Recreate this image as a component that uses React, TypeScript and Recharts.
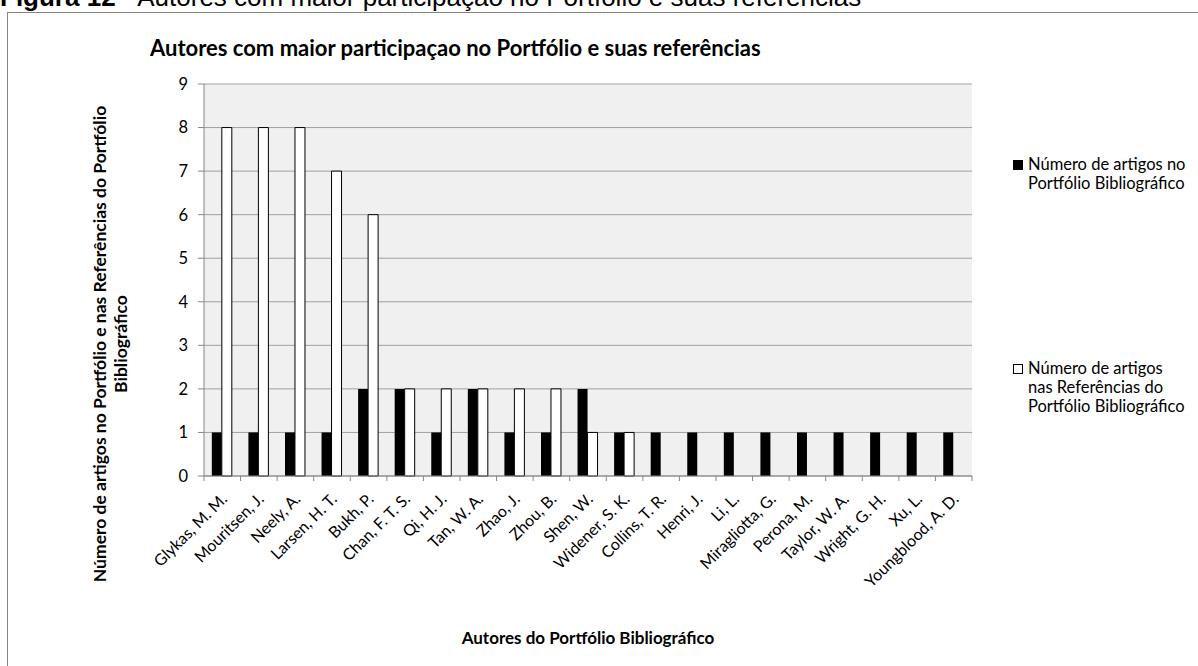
import { BarChart, Bar, XAxis, YAxis, CartesianGrid, Legend, Label } from "recharts";

const authors = [
  "Glykas, M. M.",
  "Mouritsen, J.",
  "Neely, A.",
  "Larsen, H. T.",
  "Bukh, P.",
  "Chan, F. T. S.",
  "Qi, H. J.",
  "Tan, W. A.",
  "Zhao, J.",
  "Zhou, B.",
  "Shen, W.",
  "Widener, S. K.",
  "Collins, T. R.",
  "Henri, J.",
  "Li, L.",
  "Miragliotta, G.",
  "Perona, M.",
  "Taylor, W. A.",
  "Wright, G. H.",
  "Xu, L.",
  "Youngblood, A. D.",
];

const noPortfolio = [1, 1, 1, 1, 2, 2, 1, 2, 1, 1, 2, 1, 1, 1, 1, 1, 1, 1, 1, 1, 1];
const nasReferencias = [8, 8, 8, 7, 6, 2, 2, 2, 2, 2, 1, 1, 0, 0, 0, 0, 0, 0, 0, 0, 0];

const yTicks = [0, 1, 2, 3, 4, 5, 6, 7, 8, 9];

const seriesNames = [
  "Número de artigos no Portfólio Bibliográfico",
  "Número de artigos nas Referências do Portfólio Bibliográfico",
];
const legendLines = [
  ["Número de artigos no", "Portfólio Bibliográfico"],
  ["Número de artigos", "nas Referências do", "Portfólio Bibliográfico"],
];

const chartTitle = "Autores com maior participaçao no Portfólio e suas referências";
const xTitle = "Autores do Portfólio Bibliográfico";
const yTitleLines = [
  "Número de artigos no Portfólio e nas Referências do Portfólio",
  "Bibliográfico",
];

const data = authors.map((name, i) => ({
  name,
  portfolio: noPortfolio[i],
  referencias: nasReferencias[i],
}));

const FONT = "Lato, 'Open Sans', sans-serif";
const AXIS = "#868686";
const PLOT_LEFT = 204;
const PLOT_RIGHT = 972;
const BAND = (PLOT_RIGHT - PLOT_LEFT) / authors.length;

// tick marks sit between categories, like the original spreadsheet chart
const XTick = (props: any) => {
  const { x, y, payload, index } = props;
  const half = BAND / 2;
  return (
    <g>
      <line x1={x - half} y1={y} x2={x - half} y2={y + 5} stroke={AXIS} />
      {index === authors.length - 1 && (
        <line x1={x + half} y1={y} x2={x + half} y2={y + 5} stroke={AXIS} />
      )}
      <text
        x={0}
        y={0}
        transform={`translate(${x + 6}, ${y + 24}) rotate(-45)`}
        textAnchor="end"
        fontFamily={FONT}
        fontSize={16}
        fill="#000"
      >
        {payload.value}
      </text>
    </g>
  );
};

const YTitle = () => (
  <text
    transform="translate(100, 344) rotate(-90)"
    textAnchor="middle"
    fontFamily={FONT}
    fontWeight="bold"
    fontSize={17.5}
    fill="#000"
  >
    <tspan x={0} dy={6}>{yTitleLines[0]}</tspan>
    <tspan x={0} dy={21}>{yTitleLines[1]}</tspan>
  </text>
);

const LegendBox = () => (
  <div style={{ position: "relative", width: 1198, height: 666, fontFamily: FONT, fontSize: 16.5, color: "#000" }}>
    {legendLines.map((lines, i) => (
      <div
        key={i}
        style={{ position: "absolute", left: 1013, top: i === 0 ? 155 : 359, whiteSpace: "nowrap", lineHeight: "19px" }}
      >
        <span
          style={{
            position: "absolute",
            left: 0,
            top: 5,
            width: 10,
            height: 10,
            boxSizing: "border-box",
            background: i === 0 ? "#000" : "#fff",
            border: "1px solid #000",
          }}
        />
        {lines.map((t, j) => (
          <div key={j} style={{ paddingLeft: 15 }}>
            {t}
          </div>
        ))}
      </div>
    ))}
  </div>
);

export default function App() {
  return (
    <div style={{ position: "fixed", left: 0, top: 0, width: 1198, height: 666, overflow: "hidden", background: "#fff" }}>
      <div
        style={{
          position: "absolute",
          left: 0,
          top: -18,
          fontFamily: "'Liberation Sans', Arial, sans-serif",
          fontSize: 26,
          whiteSpace: "nowrap",
          color: "#000",
        }}
      >
        <b>Figura 12</b> - Autores com maior participação no Portfólio e suas referências
      </div>
      <div
        style={{
          position: "absolute",
          left: 7,
          top: 12,
          width: 1300,
          height: 800,
          border: `1px solid ${AXIS}`,
        }}
      />
      <div
        style={{
          position: "absolute",
          left: 150,
          top: 34,
          fontFamily: FONT,
          fontWeight: "bold",
          fontSize: 22,
          whiteSpace: "nowrap",
          color: "#000",
        }}
      >
        {chartTitle}
      </div>
      <div style={{ position: "absolute", left: 0, top: 0 }}>
        <BarChart
          width={1198}
          height={666}
          data={data}
          margin={{ top: 84, right: 1198 - PLOT_RIGHT, bottom: 0, left: 0 }}
          barCategoryGap="21.4%"
          barGap={0}
        >
          <CartesianGrid vertical={false} stroke="#a0a0a0" fill="#f0f0f0" />
          <XAxis
            dataKey="name"
            height={190}
            interval={0}
            tickSize={0}
            tickMargin={0}
            axisLine={{ stroke: AXIS }}
            tickLine={false}
            tick={<XTick />}
          >
            <Label
              value={xTitle}
              position="insideBottom"
              offset={22}
              style={{ fontFamily: FONT, fontWeight: "bold", fontSize: 17, fill: "#000" }}
            />
          </XAxis>
          <YAxis
            width={PLOT_LEFT}
            domain={[0, 9]}
            ticks={yTicks}
            interval={0}
            axisLine={{ stroke: AXIS }}
            tickLine={{ stroke: AXIS }}
            tickSize={6}
            tickMargin={10}
            tick={{ fontFamily: FONT, fontSize: 16.5, fill: "#000" }}
            label={<YTitle />}
          />
          <Legend
            layout="vertical"
            align="center"
            verticalAlign="middle"
            content={<LegendBox />}
            wrapperStyle={{ position: "absolute", left: 0, top: 0, width: 1198, height: 666 }}
          />
          <Bar
            dataKey="portfolio"
            name={seriesNames[0]}
            fill="#000"
            isAnimationActive={false}
          />
          <Bar
            dataKey="referencias"
            name={seriesNames[1]}
            fill="#fff"
            stroke="#000"
            strokeWidth={1}
            isAnimationActive={false}
          />
        </BarChart>
      </div>
    </div>
  );
}
